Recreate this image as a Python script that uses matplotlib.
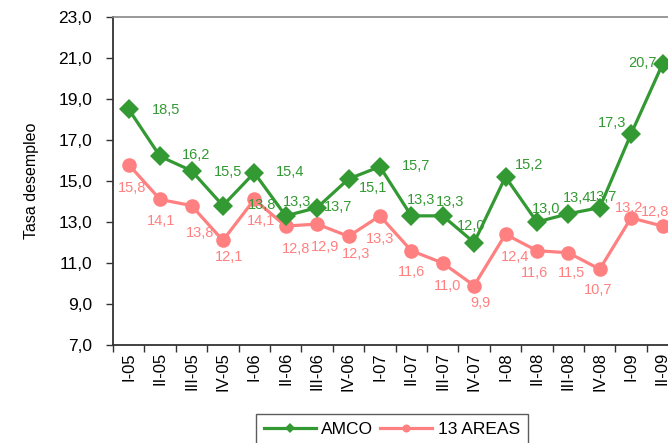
import matplotlib
matplotlib.use("Agg")
import matplotlib.pyplot as plt
from matplotlib.ticker import FixedLocator, FuncFormatter

plt.rcParams['font.family'] = ['Liberation Sans', 'DejaVu Sans']

categories = ["I-05", "II-05", "III-05", "IV-05", "I-06", "II-06", "III-06", "IV-06",
              "I-07", "II-07", "III-07", "IV-07", "I-08", "II-08", "III-08", "IV-08",
              "I-09", "II-09"]
amco = [18.5, 16.2, 15.5, 13.8, 15.4, 13.3, 13.7, 15.1, 15.7, 13.3, 13.3, 12.0,
        15.2, 13.0, 13.4, 13.7, 17.3, 20.7]
areas13 = [15.8, 14.1, 13.8, 12.1, 14.1, 12.8, 12.9, 12.3, 13.3, 11.6, 11.0, 9.9,
           12.4, 11.6, 11.5, 10.7, 13.2, 12.8]
yticks = [7, 9, 11, 13, 15, 17, 19, 21, 23]

# label offsets in pixels (dx, dy up-positive)
amco_off = [(37, -1), (36, 1), (37, -1), (39, 1), (36, 1), (11, 14), (21, 1), (25, -9),
            (36, 1), (10, 16), (7, 14), (-3, 17), (24, 12), (9, 13), (9, 16), (3, 11),
            (-19, 11), (-20, 1)]
areas_off = [(3, -23), (1, -22), (9, -27), (6, -17), (7, -22), (10, -23), (8, -23),
             (8, -18), (0, -23), (0, -21), (5, -23), (6, -17), (10, -23), (-2, -22),
             (3, -20), (-2, -21), (-2, 10), (-7, 14)]

GREEN = "#339933"
PINK = "#FF8080"

W, H = 668, 443
fig = plt.figure(figsize=(W / 100, H / 100), dpi=100)
left_px, right_px, top_px, bot_px = 113, 113 + 18 * 31.4, 17, 345
ax = fig.add_axes([left_px / W, 1 - bot_px / H, (right_px - left_px) / W, (bot_px - top_px) / H])

x = list(range(len(categories)))
ax.plot(x, amco, color=GREEN, lw=2.3, marker="D", ms=10, mec=GREEN, mew=0, label="AMCO",
        zorder=3, clip_on=False)
ax.plot(x, areas13, color=PINK, lw=2.3, marker="o", ms=10.5, mec=PINK, mew=0,
        label="13 AREAS", zorder=2, clip_on=False)

def fmt(v):
    return f"{v:.1f}".replace(".", ",")

for i, v in enumerate(amco):
    ax.annotate(fmt(v), (i, v), xytext=amco_off[i], textcoords="offset pixels",
                ha="center", va="center", color=GREEN, fontsize=10.5, zorder=5,
                annotation_clip=False)
for i, v in enumerate(areas13):
    ax.annotate(fmt(v), (i, v), xytext=areas_off[i], textcoords="offset pixels",
                ha="center", va="center", color=PINK, fontsize=10.5, zorder=5,
                annotation_clip=False)

ax.set_xlim(-0.5, len(categories) - 0.5)
ax.set_ylim(7, 23)
ax.set_yticks(yticks)
ax.yaxis.set_major_formatter(FuncFormatter(lambda v, p: fmt(v)))
ax.tick_params(axis="y", labelsize=12.5, length=5, width=1, direction="out",
               color="#333333", pad=10)

ax.set_xticks(x)
ax.set_xticklabels(categories, rotation=90, fontsize=12)
ax.tick_params(axis="x", which="major", length=0, pad=5)
ax.xaxis.set_minor_locator(FixedLocator([i - 0.5 for i in range(len(categories) + 1)]))
ax.tick_params(axis="x", which="minor", length=5, width=1, direction="out", color="#333333")

ax.set_ylabel("Tasa desempleo", fontsize=11.5, labelpad=14)

for s in ["left", "bottom"]:
    ax.spines[s].set_color("#333333")
    ax.spines[s].set_linewidth(1.3)
ax.spines["top"].set_color("#888888")
ax.spines["top"].set_linewidth(1.2)
ax.spines["right"].set_visible(False)

leg = fig.legend(loc="center", bbox_to_anchor=(392 / W, 1 - 429 / H), ncol=2,
                 frameon=True, fancybox=False, edgecolor="#333333", fontsize=12.5,
                 handlelength=3.0, columnspacing=0.4, handletextpad=0.3, borderpad=0.45,
                 markerscale=0.55)
leg.get_frame().set_linewidth(1.0)

fig.savefig("out.png", dpi=100)
